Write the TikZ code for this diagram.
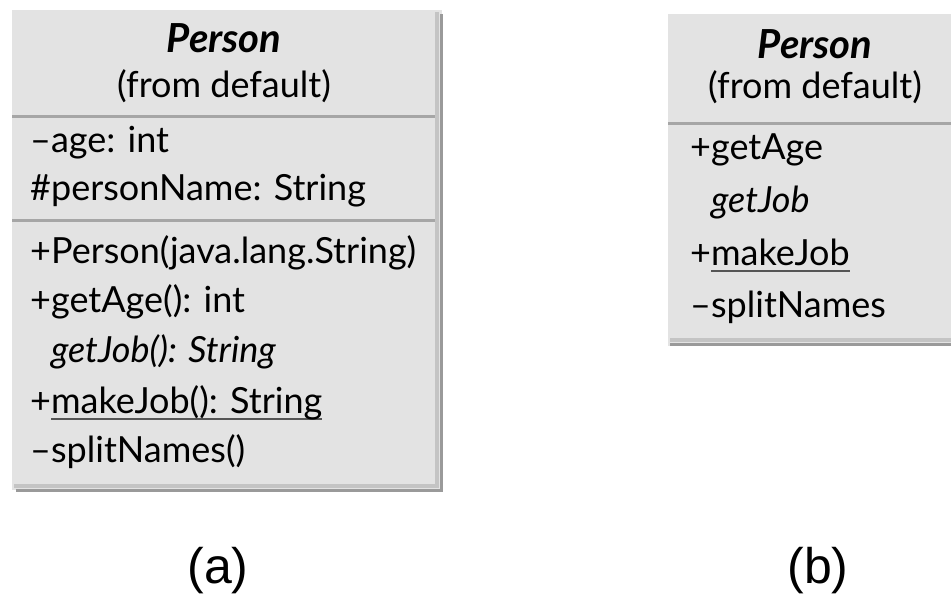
\documentclass[tikz,border=0pt]{standalone}
\usepackage{fontspec}
\setmainfont{Lato}
\newfontfamily\captionfont{Liberation Sans}
\definecolor{boxfill}{HTML}{E3E3E3}
\definecolor{rulegray}{HTML}{A6A6A6}
\definecolor{edgelight}{HTML}{C4C4C4}
\definecolor{edgedark}{HTML}{9A9A9A}
\definecolor{ulgray}{HTML}{555555}
% underline for static members, drawn as a gray rule below the baseline
\newcommand\staticul[1]{\setbox0\hbox{#1}\rlap{\color{ulgray}\rule[-7pt]{\wd0}{1.8pt}}\box0}
\begin{document}
\begin{tikzpicture}[x=1pt,y=-1pt,
  classbox/.style={fill=boxfill,draw=none},
  sepline/.style={draw=rulegray,line width=3pt},
  edgeinner/.style={draw=edgelight,line width=4pt},
  edgeouter/.style={draw=edgedark,line width=3pt},
  member/.style={anchor=base west,inner sep=0pt,font=\fontsize{36}{40}\selectfont},
  heading/.style={anchor=base,inner sep=0pt,font=\fontsize{36}{40}\selectfont},
  classname/.style={anchor=base,inner sep=0pt,font=\fontsize{40}{44}\selectfont\bfseries\itshape},
  caption/.style={anchor=base,inner sep=0pt,font=\captionfont\fontsize{50}{56}\selectfont}]
\useasboundingbox (0,0) rectangle (951,594);
\fill[white] (0,0) rectangle (951,594);

% ---- class box (a): full signatures ----
\fill[classbox] (12,10) rectangle (442,490);
\draw[edgeinner] (437,12) -- (437,486) -- (14,486);
\draw[edgeouter] (441,14) -- (441,490) -- (16,490);
\draw[sepline] (12,116) -- (435,116);
\draw[sepline] (12,220) -- (435,220);

\node[classname] (aname) at (224,53) {Person};
\node[heading] (apkg) at (224,97) {(from default)};
\node[member] (aage) at (30,152) {–age: int};
\node[member] (apname) at (30,200) {\#personName: String};
\node[member] (actor) at (30,263) {+Person(java.lang.String)};
\node[member] (agetage) at (30,312) {+getAge(): int};
\node[member] (agetjob) at (30,362) {\phantom{+}\textit{getJob(): String}};
\node[member] (amakejob) at (30,413) {+\staticul{makeJob(): String}};
\node[member] (asplit) at (30,462) {–splitNames()};

% ---- class box (b): operation names only ----
\fill[classbox] (668,14) rectangle (951,346);
\draw[edgeinner] (670,340) -- (951,340);
\draw[edgeouter] (670,344) -- (951,344);
\draw[sepline] (668,123) -- (951,123);

\node[classname] (bname) at (815,59) {Person};
\node[heading] (bpkg) at (815,99) {(from default)};
\node[member] (bgetage) at (690,159) {+getAge};
\node[member] (bgetjob) at (690,212) {\phantom{+}\textit{getJob}};
\node[member] (bmakejob) at (690,265) {+\staticul{makeJob}};
\node[member] (bsplit) at (690,317) {–splitNames};

% ---- captions ----
\node[caption] (capa) at (218,583) {(a)};
\node[caption] (capb) at (818,583) {(b)};
\end{tikzpicture}
\end{document}
